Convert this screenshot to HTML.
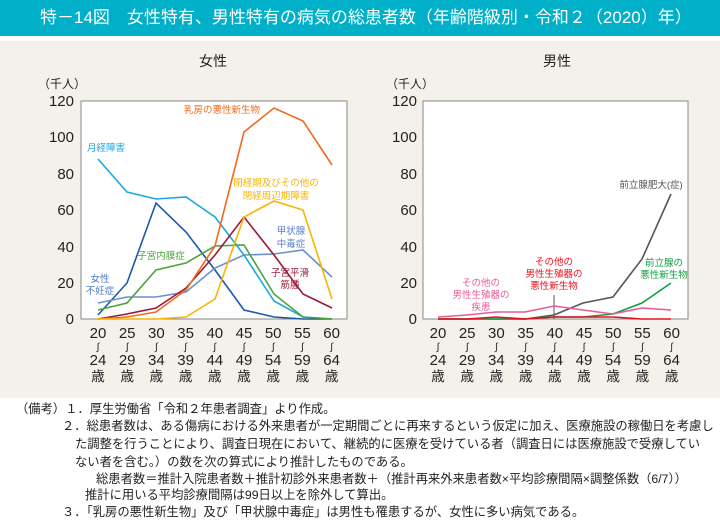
<!DOCTYPE html>
<html><head><meta charset="utf-8"><style>
body{margin:0;width:720px;height:528px;overflow:hidden;background:#fff;font-family:"Liberation Sans","Noto Sans CJK JP",sans-serif;}
.hdr{position:absolute;left:0;top:0;width:720px;height:36px;background:#00b0c8;color:#fff;font-size:17px;line-height:36px;padding-left:40px;box-sizing:border-box;}
.panel{position:absolute;left:0;top:41px;width:720px;height:357px;background:#f4f1ea;}
.n{position:absolute;font-size:12.3px;color:#222;white-space:nowrap;line-height:14px;}
</style></head><body>
<div class="hdr">特－14図　女性特有、男性特有の病気の総患者数（年齢階級別・令和２（2020）年）</div>
<div class="panel"></div>
<svg style="position:absolute;left:0;top:0" width="720" height="400" font-family="Liberation Sans,Noto Sans CJK JP,sans-serif">
<g font-size="14" fill="#222"><text x="213" y="66" text-anchor="middle">女性</text><text x="557" y="66" text-anchor="middle">男性</text></g>
<g font-size="12" fill="#222"><text x="38" y="88">（千人）</text><text x="386" y="88">（千人）</text></g>
<g font-size="15" fill="#222" text-anchor="end">
<text x="74" y="106">120</text><text x="74" y="142">100</text><text x="74" y="179">80</text><text x="74" y="215">60</text><text x="74" y="252">40</text><text x="74" y="288">20</text><text x="74" y="324">0</text>
<text x="417" y="106">120</text><text x="417" y="142">100</text><text x="417" y="179">80</text><text x="417" y="215">60</text><text x="417" y="252">40</text><text x="417" y="288">20</text><text x="417" y="324">0</text>
</g>
<rect x="81" y="101" width="266" height="218" fill="#fff" stroke="#888"/>
<rect x="423" y="101" width="265" height="218" fill="#fff" stroke="#888"/>
<g fill="none" stroke-width="1.6">
<polyline stroke="#1ea8e0" points="98,159 127,192 156,199 186,197 215,217 244,255 274,301 303,317 332,319"/>
<polyline stroke="#1a5aa8" points="98,315 127,283 156,203 186,232 215,270 244,310 274,317 303,319 332,319"/>
<polyline stroke="#6a8fd0" points="98,303 127,297 156,297 186,292 215,268 244,255 274,254 303,250 332,277"/>
<polyline stroke="#4aa53a" points="98,310 127,303 156,270 186,263 215,246 244,245 274,294 303,317 332,319"/>
<polyline stroke="#9a1b3a" points="98,319 127,314 156,308 186,288 215,255 244,217 274,255 303,294 332,308"/>
<polyline stroke="#f06a20" points="98,319 127,317 156,312 186,290 215,246 244,132 274,108 303,121 332,165"/>
<polyline stroke="#f7b500" points="98,319 127,319 156,319 186,317 215,299 244,217 274,201 303,210 332,299"/>
<line x1="554" y1="295" x2="554" y2="319" stroke="#555" stroke-width="1"/>
<polyline stroke="#555" points="438,319 467,319 496,319 525,319 554,315 583,303 613,297 642,259 671,194"/>
<polyline stroke="#12a040" points="438,319 467,319 496,319 525,319 554,317 583,317 613,314 642,303 671,283"/>
<polyline stroke="#e85a9a" points="438,317 467,315 496,312 525,312 554,306 583,310 613,314 642,308 671,310"/>
<polyline stroke="#e8101e" points="438,319 467,319 496,317 525,319 554,317 583,317 613,317 642,319 671,319"/>
</g>
<g font-size="9.5" text-anchor="middle">
<text x="222" y="113" fill="#f06a20">乳房の悪性新生物</text>
<text x="106" y="151" fill="#1ea8e0">月経障害</text>
<text x="276" y="186" fill="#f7b500">閉経期及びその他の</text><text x="276" y="199" fill="#f7b500">閉経周辺期障害</text>
<text x="291" y="234" fill="#5a80c8">甲状腺</text><text x="291" y="247" fill="#5a80c8">中毒症</text>
<text x="161" y="259" fill="#4aa53a">子宮内膜症</text>
<text x="290" y="276" fill="#9a1b3a">子宮平滑</text><text x="290" y="288" fill="#9a1b3a">筋腫</text>
<text x="100" y="282" fill="#4a7ac8">女性</text><text x="100" y="294" fill="#4a7ac8">不妊症</text>
<text x="651" y="188" fill="#555">前立腺肥大(症)</text>
<text x="664" y="266" fill="#12a040">前立腺の</text><text x="664" y="278" fill="#12a040">悪性新生物</text>
<text x="554" y="265" fill="#e8101e">その他の</text><text x="554" y="277" fill="#e8101e">男性生殖器の</text><text x="554" y="289" fill="#e8101e">悪性新生物</text>
<text x="481" y="286" fill="#e85a9a">その他の</text><text x="481" y="298" fill="#e85a9a">男性生殖器の</text><text x="481" y="310" fill="#e85a9a">疾患</text>
</g>
<g font-size="15" fill="#222" text-anchor="middle" id="a"></g>
</svg>
<script>
var g=document.getElementById('a'),s='';
var ag=[['20','24'],['25','29'],['30','34'],['35','39'],['40','44'],['45','49'],['50','54'],['55','59'],['60','64']];
[98,438].forEach(function(x0){for(var i=0;i<9;i++){var x=x0+i*29.2;
s+='<text x="'+x+'" y="338">'+ag[i][0]+'</text><text x="'+x+'" y="350" font-size="10">∫</text><text x="'+x+'" y="365">'+ag[i][1]+'</text><text x="'+x+'" y="381" font-size="13.5">歳</text>';}});
g.innerHTML=s;
</script>
<div class="n" style="left:16px;top:402px">（備考）１．厚生労働省「令和２年患者調査」より作成。</div>
<div class="n" style="left:62px;top:419px">２．総患者数は、ある傷病における外来患者が一定期間ごとに再来するという仮定に加え、医療施設の稼働日を考慮し</div>
<div class="n" style="left:75px;top:437px">た調整を行うことにより、調査日現在において、継続的に医療を受けている者（調査日には医療施設で受療してい</div>
<div class="n" style="left:75px;top:455px">ない者を含む。）の数を次の算式により推計したものである。</div>
<div class="n" style="left:96px;top:472px">総患者数＝推計入院患者数＋推計初診外来患者数＋（推計再来外来患者数×平均診療間隔×調整係数（6/7））</div>
<div class="n" style="left:85px;top:488px">推計に用いる平均診療間隔は99日以上を除外して算出。</div>
<div class="n" style="left:62px;top:505px">３．「乳房の悪性新生物」及び「甲状腺中毒症」は男性も罹患するが、女性に多い病気である。</div>
</body></html>
